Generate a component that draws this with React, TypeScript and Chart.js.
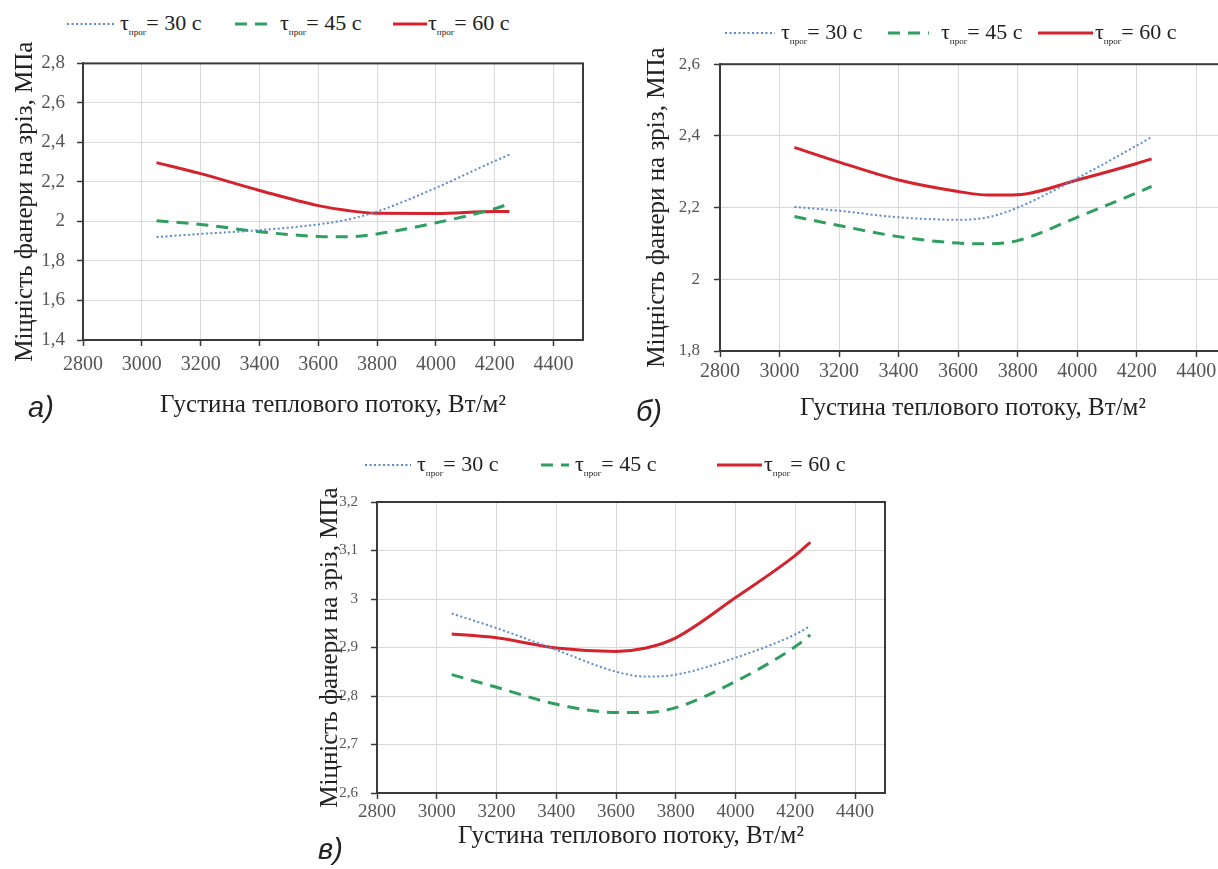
import React, { useEffect, useRef } from 'react';
import { Chart, registerables } from 'chart.js';

Chart.register(...registerables);

// ---------- data ----------
const heatFlux = [3050, 3200, 3400, 3600, 3700, 3800, 4000, 4200, 4250];
const xTickValues = [2800, 3000, 3200, 3400, 3600, 3800, 4000, 4200, 4400];
const tauValues = [30, 45, 60];

const aTau30 = [1.921, 1.937, 1.956, 1.985, 2.01, 2.05, 2.17, 2.306, 2.338];
const aTau45 = [2.003, 1.985, 1.948, 1.924, 1.922, 1.937, 1.993, 2.065, 2.09];
const aTau60 = [2.298, 2.242, 2.157, 2.08, 2.055, 2.041, 2.04, 2.05, 2.05];
const aYTicks = [1.4, 1.6, 1.8, 2, 2.2, 2.4, 2.6, 2.8];

const bTau30 = [2.202, 2.191, 2.173, 2.166, 2.173, 2.2, 2.282, 2.373, 2.397];
const bTau45 = [2.175, 2.15, 2.119, 2.101, 2.099, 2.108, 2.173, 2.241, 2.259];
const bTau60 = [2.368, 2.327, 2.277, 2.245, 2.235, 2.236, 2.277, 2.323, 2.336];
const bYTicks = [1.8, 2, 2.2, 2.4, 2.6];

const cTau30 = [2.97, 2.94, 2.895, 2.85, 2.84, 2.844, 2.879, 2.927, 2.944];
const cTau45 = [2.844, 2.818, 2.783, 2.766, 2.766, 2.776, 2.83, 2.902, 2.926];
const cTau60 = [2.928, 2.92, 2.899, 2.892, 2.899, 2.92, 3.003, 3.09, 3.117];
const cYTicks = [2.6, 2.7, 2.8, 2.9, 3, 3.1, 3.2];

const yTitle = 'Міцність фанери на зріз, МПа';
const xTitle = 'Густина теплового потоку, Вт/м²';

// ---------- styles ----------
const SERIF = '"Liberation Serif", "Times New Roman", serif';
const lineStyles = [
  { color: '#5a8bcc', width: 2, dash: [2, 2.5] },
  { color: '#2f9e5f', width: 3, dash: [12, 8] },
  { color: '#d4232c', width: 3, dash: [] as number[] },
];
const FRAME = '#3a3a3a';

const fmt = (v: number) => (Number.isInteger(v) ? String(v) : v.toFixed(1).replace('.', ','));

const framePlugin = {
  id: 'frame',
  afterDraw(chart: any) {
    const { ctx, chartArea } = chart;
    ctx.save();
    ctx.strokeStyle = FRAME;
    ctx.lineWidth = 2;
    ctx.strokeRect(chartArea.left, chartArea.top, chartArea.right - chartArea.left, chartArea.bottom - chartArea.top);
    ctx.restore();
  },
};

type Cfg = {
  left: number; top: number; w: number; h: number;
  pad: { left: number; top: number; right: number; bottom: number };
  yWidth: number; xHeight: number;
  yMin: number; yMax: number; yTicks: number[];
  yTickFont: number; xTickFont: number;
  yTickPad: number; xTickPad: number;
  yTitlePad: number; xTitlePad: number;
  series: number[][];
};

function Panel({ cfg }: { cfg: Cfg }) {
  const ref = useRef<HTMLCanvasElement>(null);
  useEffect(() => {
    const canvas = ref.current!;
    const chart = new Chart(canvas, {
      type: 'line',
      data: {
        datasets: cfg.series.map((vals, i) => ({
          label: String(tauValues[i]),
          data: heatFlux.map((x, j) => ({ x, y: vals[j] })),
          borderColor: lineStyles[i].color,
          borderWidth: lineStyles[i].width,
          borderDash: lineStyles[i].dash,
          pointRadius: 0,
          fill: false,
          cubicInterpolationMode: 'monotone' as const,
        })),
      },
      options: {
        responsive: false,
        animation: false,
        devicePixelRatio: 1,
        layout: { padding: cfg.pad },
        plugins: { legend: { display: false }, tooltip: { enabled: false } },
        scales: {
          x: {
            type: 'linear',
            min: 2800,
            max: 4500,
            afterBuildTicks: (s: any) => { s.ticks = xTickValues.map((v) => ({ value: v })); },
            afterFit: (s: any) => { s.height = cfg.xHeight; },
            ticks: {
              callback: (v: any) => String(v),
              color: '#555',
              font: { family: SERIF, size: cfg.xTickFont },
              padding: cfg.xTickPad,
              maxRotation: 0,
              autoSkip: false,
            },
            grid: { color: '#d9d9d9', lineWidth: 1, tickColor: FRAME, tickLength: 6, tickWidth: 1.5 },
            border: { color: FRAME, width: 2 },
            title: {
              display: true,
              text: xTitle,
              color: '#222',
              font: { family: SERIF, size: 25 },
              padding: { top: 0, bottom: cfg.xTitlePad },
            },
          },
          y: {
            type: 'linear',
            min: cfg.yMin,
            max: cfg.yMax,
            afterBuildTicks: (s: any) => { s.ticks = cfg.yTicks.map((v) => ({ value: v })); },
            afterFit: (s: any) => { s.width = cfg.yWidth; },
            ticks: {
              callback: (v: any) => fmt(Number(v)),
              color: '#555',
              font: { family: SERIF, size: cfg.yTickFont },
              padding: cfg.yTickPad,
              autoSkip: false,
            },
            grid: { color: '#d9d9d9', lineWidth: 1, tickColor: FRAME, tickLength: 6, tickWidth: 1.5 },
            border: { color: FRAME, width: 2 },
            title: {
              display: true,
              text: yTitle,
              color: '#222',
              font: { family: SERIF, size: 25 },
              padding: { top: cfg.yTitlePad, bottom: 0 },
            },
          },
        },
      },
      plugins: [framePlugin],
    } as any);
    return () => chart.destroy();
  }, [cfg]);
  return (
    <canvas
      ref={ref}
      width={cfg.w}
      height={cfg.h}
      style={{ position: 'absolute', left: cfg.left, top: cfg.top, width: cfg.w, height: cfg.h }}
    />
  );
}

type LegendPos = { y: number; items: { s0: number; s1: number; t: number }[] };

function Legend({ pos }: { pos: LegendPos }) {
  return (
    <>
      {pos.items.map((it, i) => {
        const st = lineStyles[i];
        const w = it.s1 - it.s0;
        return (
          <React.Fragment key={i}>
            <svg width={w} height={10} style={{ position: 'absolute', left: it.s0, top: pos.y - 5 }}>
              <line x1={0} y1={5} x2={w} y2={5} stroke={st.color} strokeWidth={st.width}
                strokeDasharray={st.dash.length ? st.dash.join(' ') : undefined} />
            </svg>
            <div style={{
              position: 'absolute', left: it.t, top: pos.y - 14, fontFamily: SERIF, fontSize: 22,
              lineHeight: '26px', color: '#222', whiteSpace: 'nowrap',
            }}>
              τ<span style={{ fontSize: 9, position: 'relative', top: 5 }}>прог</span>= {tauValues[i]} с
            </div>
          </React.Fragment>
        );
      })}
    </>
  );
}

const cfgA: Cfg = {
  left: 0, top: 40, w: 600, h: 380,
  pad: { left: 0, top: 10, right: 17, bottom: 0 },
  yWidth: 83, xHeight: 80,
  yMin: 1.4, yMax: 2.8, yTicks: aYTicks,
  yTickFont: 19, xTickFont: 20, yTickPad: 12, xTickPad: 7,
  yTitlePad: 10, xTitlePad: 0,
  series: [aTau30, aTau45, aTau60],
};
const cfgB: Cfg = {
  left: 620, top: 40, w: 640, h: 390,
  pad: { left: 0, top: 17, right: 34, bottom: 0 },
  yWidth: 100, xHeight: 79,
  yMin: 1.8, yMax: 2.6, yTicks: bYTicks,
  yTickFont: 17, xTickFont: 20, yTickPad: 14, xTickPad: 3,
  yTitlePad: 22, xTitlePad: 7,
  series: [bTau30, bTau45, bTau60],
};
const cfgC: Cfg = {
  left: 290, top: 480, w: 620, h: 380,
  pad: { left: 0, top: 21, right: 25, bottom: 0 },
  yWidth: 87, xHeight: 67,
  yMin: 2.6, yMax: 3.2, yTicks: cYTicks,
  yTickFont: 15, xTickFont: 19, yTickPad: 13, xTickPad: 2,
  yTitlePad: 25, xTitlePad: 9,
  series: [cTau30, cTau45, cTau60],
};

const legA: LegendPos = { y: 24, items: [{ s0: 67, s1: 115, t: 120 }, { s0: 235, s1: 270, t: 280 }, { s0: 393, s1: 427, t: 428 }] };
const legB: LegendPos = { y: 33, items: [{ s0: 725, s1: 775, t: 781 }, { s0: 888, s1: 929, t: 941 }, { s0: 1038, s1: 1093, t: 1095 }] };
const legC: LegendPos = { y: 465, items: [{ s0: 365, s1: 411, t: 417 }, { s0: 541, s1: 569, t: 575 }, { s0: 717, s1: 762, t: 764 }] };

const panelLabel = (text: string, left: number, top: number) => (
  <div style={{
    position: 'absolute', left, top, fontFamily: '"Liberation Sans", Arial, sans-serif',
    fontStyle: 'italic', fontSize: 29, lineHeight: '34px', color: '#222',
  }}>{text}</div>
);

export default function App() {
  return (
    <div style={{ position: 'absolute', left: 0, top: 0, width: 1218, height: 869, overflow: 'hidden', background: '#fff' }}>
      <Panel cfg={cfgA} />
      <Panel cfg={cfgB} />
      <Panel cfg={cfgC} />
      <Legend pos={legA} />
      <Legend pos={legB} />
      <Legend pos={legC} />
      {panelLabel('а)', 28, 390)}
      {panelLabel('б)', 636, 394)}
      {panelLabel('в)', 318, 832)}
    </div>
  );
}
